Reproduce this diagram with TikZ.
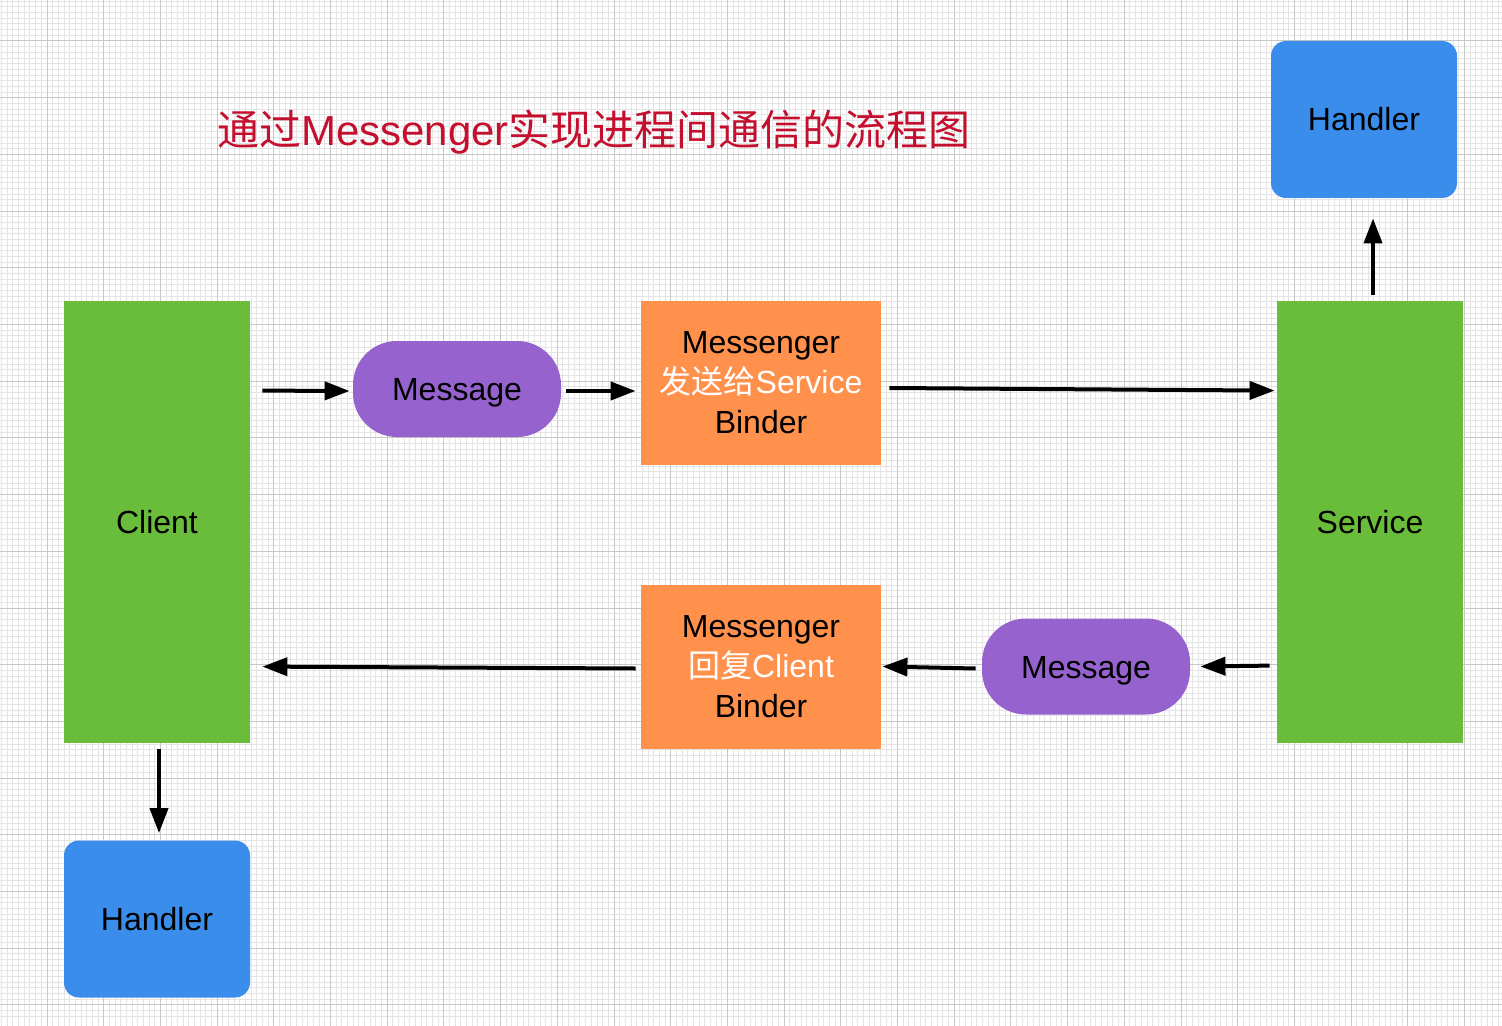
\documentclass[tikz,border=0pt]{standalone}
\usepackage{fontspec}
\setmainfont{Liberation Sans}
\newfontfamily\cjk{Noto Sans CJK SC}
\usetikzlibrary{arrows.meta,calc}
\definecolor{gridminor}{RGB}{228,228,228}
\definecolor{gridmajor}{RGB}{200,200,200}
\definecolor{cgreen}{RGB}{106,189,58}
\definecolor{corange}{RGB}{255,145,77}
\definecolor{cpurple}{RGB}{149,98,206}
\definecolor{cblue}{RGB}{58,141,234}
\definecolor{ctitle}{RGB}{196,16,46}
\tikzset{
  lbl/.style={font=\fontsize{16}{20}\selectfont},
  greenbox/.style={lbl,fill=cgreen,draw=none,minimum width=93pt,minimum height=221pt,inner sep=0pt},
  bluebox/.style={lbl,fill=cblue,draw=none,rounded corners=7.5pt,minimum width=93pt,minimum height=78.5pt,inner sep=0pt},
  orangebox/.style={lbl,fill=corange,draw=none,minimum width=120pt,minimum height=82pt,inner sep=0pt,align=center},
  msgbox/.style={lbl,fill=cpurple,draw=none,rounded corners=22pt,minimum width=104pt,minimum height=48pt,inner sep=0pt,text height=11.5pt,text depth=0pt},
  arr/.style={line width=2pt,-{Triangle[length=12.5pt,width=9pt]}},
}
\begin{document}
\begin{tikzpicture}[x=0.5pt,y=-0.5pt]
\useasboundingbox (0,0) rectangle (1502,1026);
\fill[white] (0,0) rectangle (1502,1026);
% grid
\foreach \i in {0,...,266} {
  \draw[gridminor,line width=0.5pt] ({-9.7+\i*5.67},0) -- ({-9.7+\i*5.67},1026);
}
\foreach \i in {0,...,182} {
  \draw[gridminor,line width=0.5pt] (0,{-15.7+\i*5.67}) -- (1502,{-15.7+\i*5.67});
}
\foreach \i in {0,...,27} {
  \draw[gridmajor,line width=0.5pt] ({-9.7+\i*56.7},0) -- ({-9.7+\i*56.7},1026);
}
\foreach \i in {0,...,19} {
  \draw[gridmajor,line width=0.5pt] (0,{-15.7+\i*56.7}) -- (1502,{-15.7+\i*56.7});
}
% title
\node[text=ctitle,font=\fontsize{21}{25}\selectfont,inner sep=0pt] (title) at (594,132)
  {{\cjk 通过}Messenger{\cjk 实现进程间通信的流程图}};
% nodes
\node[greenbox] (client) at (157,522) {Client};
\node[greenbox] (service) at (1370,522) {Service};
\node[bluebox] (handlertop) at (1364,119.5) {Handler};
\node[bluebox] (handlerbot) at (157,919) {Handler};
\node[msgbox] (msg1) at (457,389) {Message};
\node[msgbox] (msg2) at (1086,666.5) {Message};
\node[orangebox] (box1) at (761,383) {Messenger\\\textcolor{white}{{\cjk 发送给}Service}\\Binder};
\node[orangebox] (box2) at (761,666.5) {Messenger\\\textcolor{white}{{\cjk 回复}Client}\\Binder};
% connectors
\draw[arr] ($(client.north east)+(12,90)$) -- ($(msg1.west)+(-3,2)$);
\draw[arr] ($(msg1.east)+(5,2)$) -- ($(box1.west)+(-5,8)$);
\draw[arr] ($(box1.east)+(8,5)$) -- ($(service.north west)+(-2,90)$);
\draw[arr] ($(service.north)+(3,-6)$) -- ($(handlertop.south)+(9,20)$);
\draw[arr] ($(service.north west)+(-7,365)$) -- ($(msg2.east)+(10,0)$);
\draw[arr] ($(msg2.west)+(-6,2)$) -- ($(box2.east)+(1,0)$);
\draw[arr] ($(box2.west)+(-5,2)$) -- ($(client.north east)+(12,366)$);
\draw[arr] ($(client.south)+(2,6)$) -- ($(handlerbot.north)+(2,-7)$);
\end{tikzpicture}
\end{document}
